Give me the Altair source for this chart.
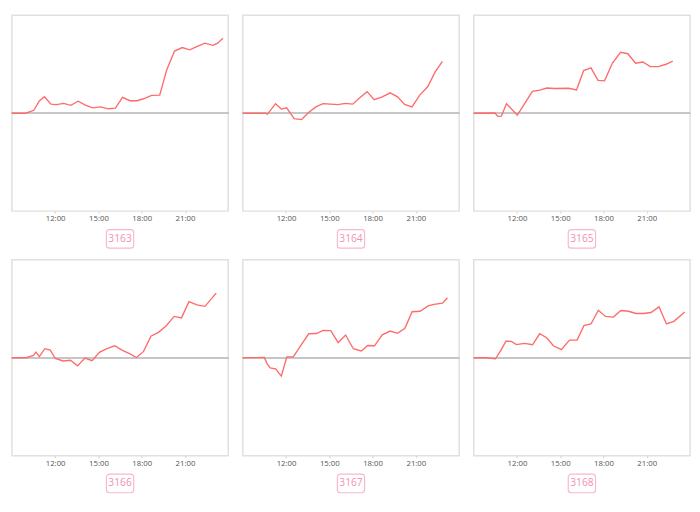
import altair as alt
import pandas as pd

# ---- data (hour of day, value) ----
labels = ["3163", "3164", "3165", "3166", "3167", "3168"]

h1 = [9.0, 9.96, 10.52, 10.90, 11.26, 11.71, 12.09, 12.58, 13.09, 13.59, 14.10, 14.59, 15.15, 15.67, 16.18,
      16.67, 17.19, 17.68, 18.13, 18.69, 19.25, 19.74, 20.28, 20.81, 21.33, 21.86, 22.38, 22.94, 23.27, 23.63]
v1 = [0, 0, 0.12, 0.50, 0.67, 0.37, 0.35, 0.40, 0.32, 0.49, 0.33, 0.22, 0.26, 0.18, 0.21,
      0.65, 0.51, 0.51, 0.59, 0.73, 0.74, 1.78, 2.54, 2.68, 2.59, 2.73, 2.86, 2.77, 2.86, 3.06]

h2 = [9.0, 10.56, 10.71, 11.27, 11.67, 12.04, 12.56, 13.07, 13.56, 14.07, 14.56, 15.07, 15.60, 16.11,
      16.62, 17.11, 17.62, 18.11, 18.67, 19.22, 19.73, 20.22, 20.73, 21.27, 21.82, 22.33, 22.84]
v2 = [0, 0, -0.04, 0.39, 0.17, 0.22, -0.22, -0.26, 0.03, 0.26, 0.39, 0.37, 0.35, 0.40,
      0.37, 0.63, 0.88, 0.55, 0.67, 0.83, 0.67, 0.36, 0.26, 0.74, 1.08, 1.68, 2.12]

h3 = [9.0, 10.47, 10.67, 10.91, 11.27, 12.02, 13.07, 13.58, 14.07, 14.62, 15.58, 16.13, 16.62, 17.13,
      17.62, 18.07, 18.62, 19.18, 19.69, 20.22, 20.73, 21.24, 21.80, 22.33, 22.80]
v3 = [0, 0.01, -0.13, -0.12, 0.39, -0.08, 0.89, 0.94, 1.03, 1.01, 1.02, 0.95, 1.74, 1.85,
      1.34, 1.32, 2.05, 2.49, 2.43, 2.04, 2.09, 1.90, 1.90, 2.00, 2.13]

h4 = [9.0, 9.98, 10.50, 10.67, 10.90, 11.28, 11.66, 12.01, 12.55, 13.06, 13.55, 14.07, 14.56, 15.07,
      15.58, 16.14, 16.63, 17.15, 17.64, 18.13, 18.64, 19.16, 19.69, 20.25, 20.76, 21.28, 21.83, 22.39, 23.17]
v4 = [0, 0, 0.10, 0.23, 0.05, 0.37, 0.31, -0.03, -0.13, -0.10, -0.33, -0.01, -0.12, 0.22,
      0.37, 0.49, 0.31, 0.17, 0.01, 0.26, 0.88, 1.04, 1.30, 1.69, 1.63, 2.29, 2.16, 2.10, 2.64]

h5 = [9.0, 10.49, 10.67, 10.89, 11.27, 11.67, 12.05, 12.50, 13.05, 13.57, 14.10, 14.57, 15.10, 15.61,
      16.13, 16.66, 17.22, 17.66, 18.13, 18.67, 19.22, 19.73, 20.24, 20.74, 21.29, 21.85, 22.25, 22.85, 23.19]
v5 = [0, 0.01, -0.23, -0.41, -0.45, -0.75, 0.03, 0.04, 0.53, 0.98, 0.99, 1.12, 1.11, 0.62,
      0.93, 0.37, 0.28, 0.50, 0.49, 0.94, 1.09, 1.00, 1.20, 1.88, 1.90, 2.12, 2.18, 2.23, 2.45]

h6 = [9.0, 9.89, 10.51, 10.89, 11.23, 11.61, 11.96, 12.52, 13.08, 13.57, 14.06, 14.52, 15.08, 15.64,
      16.17, 16.64, 17.13, 17.64, 18.13, 18.69, 19.20, 19.73, 20.25, 20.76, 21.29, 21.85, 22.36, 22.88, 23.63]
v6 = [0, 0, -0.04, 0.31, 0.68, 0.67, 0.54, 0.59, 0.53, 0.98, 0.82, 0.49, 0.33, 0.72,
      0.72, 1.31, 1.38, 1.94, 1.69, 1.66, 1.93, 1.90, 1.81, 1.81, 1.85, 2.08, 1.38, 1.49, 1.87]

hours = [h1, h2, h3, h4, h5, h6]
values = [v1, v2, v3, v4, v5, v6]

tick_hours = [12, 15, 18, 21]
grid_vals = [-4, -3, -2, -1, 0, 1, 2, 3, 4]

LINE = "#ff6b6b"
PINK_TEXT = "#f48fb1"
PINK_BORDER = "#f9b8cd"
FONT = "Open Sans"

W = 222
H = 201


def panel(h, v, label):
    df = pd.DataFrame({"hour": h, "value": v})
    x = alt.X("hour:Q",
              scale=alt.Scale(domain=[9, 24], nice=False, zero=False),
              axis=alt.Axis(values=tick_hours, labelExpr="datum.value + ':00'", title=None,
                            grid=False, domain=False, tickSize=2, tickColor="#cccccc",
                            labelFontSize=8, labelColor="#555555", labelPadding=2,
                            labelFont=FONT))
    y = alt.Y("value:Q",
              scale=alt.Scale(domain=[-4, 4], nice=False),
              axis=alt.Axis(values=grid_vals, labels=False, ticks=False, domain=False,
                            title=None, gridColor="#ececec", gridWidth=1,
                            gridDash=[3, 2]))
    line = alt.Chart(df).mark_line(color=LINE, strokeWidth=1.4).encode(x=x, y=y)
    zero = alt.Chart(df).mark_rule(color="#c6c6c6", strokeWidth=1.6).encode(y=alt.datum(0))
    plot = alt.layer(zero, line).properties(
        width=W, height=H,
        view=alt.ViewBackground(stroke="#e0e0e0", strokeWidth=1.5))

    ldf = pd.DataFrame({"label": [label]})
    box = alt.Chart(ldf).mark_rect(fill="white", stroke=PINK_BORDER, strokeWidth=1.2,
                                   cornerRadius=3).encode(
        x=alt.value(W / 2 - 14), x2=alt.value(W / 2 + 14),
        y=alt.value(1), y2=alt.value(20))
    txt = alt.Chart(ldf).mark_text(color=PINK_TEXT, fontSize=10.5, font=FONT).encode(
        text="label:N", x=alt.value(W / 2), y=alt.value(10.5))
    lab = alt.layer(box, txt).properties(
        width=W, height=21, view=alt.ViewBackground(strokeOpacity=0))
    return alt.vconcat(plot, lab, spacing=5)


panels = [panel(hours[i], values[i], labels[i]) for i in range(6)]
row1 = alt.hconcat(*panels[:3], spacing=9)
row2 = alt.hconcat(*panels[3:], spacing=9)
chart = alt.vconcat(row1, row2, spacing=10).properties(padding=0).configure_concat(spacing=9)

chart.save("out.html", embed_options={"renderer": "svg", "actions": False})
